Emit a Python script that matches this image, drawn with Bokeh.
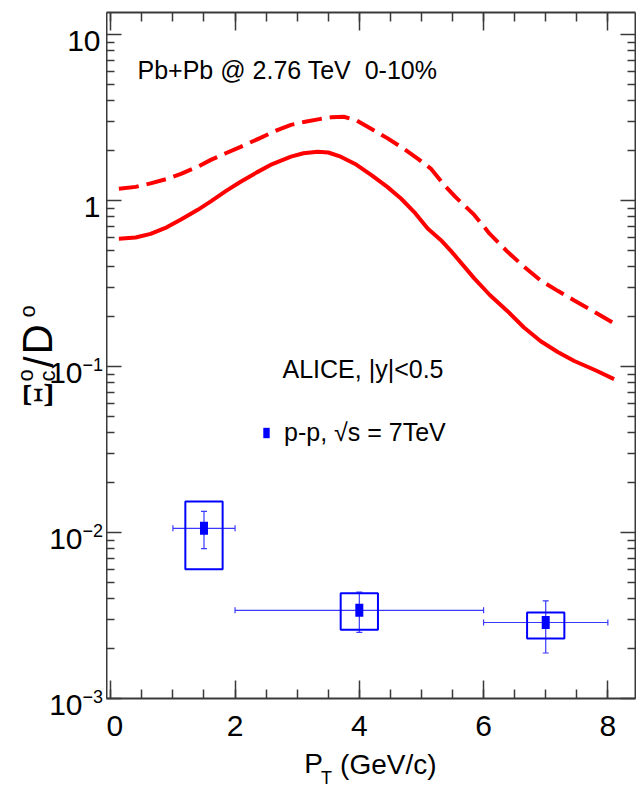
import math

from bokeh.plotting import figure
from bokeh.layouts import row, column
from bokeh.core.properties import value
from bokeh.models import (Range1d, FixedTicker, LinearAxis, LogAxis, Label, Whisker,
                          TeeHead, ColumnDataSource, CustomJSTickFormatter, Legend,
                          LegendItem)
from bokeh.embed import file_html
from bokeh.resources import INLINE

# Model curves: Xi_c^0 / D^0 ratio, Pb+Pb @ 2.76 TeV, 0-10%
pt_solid = [0.13, 0.40, 0.64, 0.90, 1.13, 1.40, 1.61, 1.85, 2.09, 2.35, 2.60, 2.90,
            3.10, 3.33, 3.50, 3.70, 3.95, 4.19, 4.45, 4.67, 4.90, 5.10, 5.31, 5.47,
            5.85, 6.10, 6.39, 6.65, 6.92, 7.20, 7.46, 7.80, 8.10]
ratio_solid = [0.59, 0.60, 0.63, 0.69, 0.77, 0.88, 0.99, 1.14, 1.30, 1.48, 1.66, 1.84,
               1.93, 1.97, 1.95, 1.84, 1.65, 1.43, 1.21, 1.03, 0.84, 0.68, 0.58, 0.50,
               0.34, 0.27, 0.215, 0.172, 0.142, 0.122, 0.108, 0.095, 0.084]
pt_dashed = [0.13, 0.40, 0.64, 0.90, 1.13, 1.40, 1.61, 1.85, 2.09, 2.40, 2.69, 2.90,
             3.15, 3.38, 3.55, 3.75, 3.95, 4.19, 4.45, 4.72, 4.95, 5.15, 5.36, 5.55,
             5.85, 6.10, 6.39, 6.65, 6.92, 7.20, 7.46, 7.80, 8.10]
ratio_dashed = [1.18, 1.21, 1.27, 1.35, 1.45, 1.60, 1.76, 1.93, 2.11, 2.38, 2.67, 2.86,
                3.00, 3.11, 3.18, 3.20, 3.05, 2.71, 2.38, 2.05, 1.78, 1.56, 1.25, 1.05,
                0.82, 0.63, 0.49, 0.40, 0.33, 0.285, 0.25, 0.212, 0.182]

# ALICE p-p, sqrt(s) = 7 TeV, |y| < 0.5
alice_pt = [1.5, 4.0, 7.0]
alice_ratio = [0.0106, 0.0034, 0.00287]
alice_pt_low = [1.0, 2.0, 6.0]
alice_pt_high = [2.0, 6.0, 8.0]
alice_stat_low = [0.0080, 0.0025, 0.00188]
alice_stat_high = [0.0134, 0.00437, 0.00388]
alice_sys_low = [0.0060, 0.0026, 0.0023]
alice_sys_high = [0.0154, 0.0043, 0.0033]

# Axis ticks and their labels
x_ticks = [0, 2, 4, 6, 8]
y_ticks = [1e-3, 1e-2, 1e-1, 1, 10]
y_tick_base = ["10", "10", "10", "1", "10"]
y_tick_exp = ["\u22123", "\u22122", "\u22121", "", ""]

# Page layout (pixels)
W, H = 636, 797
FRAME_LEFT, FRAME_RIGHT, FRAME_TOP, FRAME_BOTTOM = 106, 635, 12, 698
MAIN_H = 748
X0, X1 = -0.069, 8.445
Y0, Y1 = 1e-3, 13.6
SYS_HALF_WIDTH = 0.3
# text anchors sit this fraction of the font size above the drawn baseline
BASE_SHIFT = 0.35

SANS = "Liberation Sans"
SERIF = "Liberation Serif"
AXIS_GREY = "#3a3a3a"
RED = "#ff0000"
BLUE = "#0000ff"
ERR_BLUE = "#3a3aff"
UP = math.pi / 2


def bare_figure(**kw):
    f = figure(output_backend="svg", toolbar_location=None,
               x_axis_location=None, y_axis_location=None,
               min_border_left=0, min_border_right=0,
               min_border_top=0, min_border_bottom=0, **kw)
    f.outline_line_color = None
    f.background_fill_color = "white"
    f.border_fill_color = "white"
    f.grid.visible = False
    return f


# ---------------- main plot ----------------
p = figure(width=W - FRAME_LEFT, height=MAIN_H, y_axis_type="log",
           x_range=Range1d(X0, X1), y_range=Range1d(Y0, Y1),
           output_backend="svg", toolbar_location=None,
           min_border_left=0, min_border_right=W - FRAME_RIGHT,
           min_border_top=FRAME_TOP, min_border_bottom=MAIN_H - FRAME_BOTTOM)
p.background_fill_color = "white"
p.border_fill_color = "white"
p.outline_line_color = None
p.xgrid.visible = False
p.ygrid.visible = False

x_ticker = FixedTicker(ticks=x_ticks, minor_ticks=[i * 0.5 for i in range(0, 17)])
y_minor = [k * 10.0 ** n for n in range(-3, 2) for k in range(2, 10)]
y_ticker = FixedTicker(ticks=y_ticks, minor_ticks=y_minor)
blank = CustomJSTickFormatter(code="return ''")


def style_axis(ax, major, minor):
    ax.axis_line_color = AXIS_GREY
    ax.axis_line_width = 2
    ax.major_tick_line_color = AXIS_GREY
    ax.minor_tick_line_color = AXIS_GREY
    ax.major_tick_line_width = 1.5
    ax.minor_tick_line_width = 1.5
    ax.major_tick_in = major
    ax.major_tick_out = 0
    ax.minor_tick_in = minor
    ax.minor_tick_out = 0


xb = p.xaxis[0]
xb.ticker = x_ticker
style_axis(xb, 18, 9)
xb.major_label_text_font = SANS
xb.major_label_text_font_size = "30px"
xb.major_label_text_color = "black"
xb.major_label_standoff = 17

yl = p.yaxis[0]
yl.ticker = y_ticker
yl.formatter = blank
style_axis(yl, 15, 8)
yl.major_label_standoff = 0

xt = LinearAxis(ticker=x_ticker, formatter=blank, major_label_standoff=0)
style_axis(xt, 18, 9)
p.add_layout(xt, "above")
yr = LogAxis(ticker=y_ticker, formatter=blank, major_label_standoff=0)
style_axis(yr, 15, 8)
p.add_layout(yr, "right")

# Model curves
p.line(pt_solid, ratio_solid, line_color=RED, line_width=4)
p.line(pt_dashed, ratio_dashed, line_color=RED, line_width=4, line_dash="20 8")

# ALICE points: systematic boxes, statistical bars, bin widths, markers
src = ColumnDataSource(dict(
    pt=alice_pt, ratio=alice_ratio,
    pt_lo=alice_pt_low, pt_hi=alice_pt_high,
    stat_lo=alice_stat_low, stat_hi=alice_stat_high,
    box_l=[x - SYS_HALF_WIDTH for x in alice_pt],
    box_r=[x + SYS_HALF_WIDTH for x in alice_pt],
    sys_lo=alice_sys_low, sys_hi=alice_sys_high,
))
p.quad(left="box_l", right="box_r", bottom="sys_lo", top="sys_hi", source=src,
       fill_color=None, line_color=BLUE, line_width=2)
for dim, base, lo, hi in (("height", "pt", "stat_lo", "stat_hi"),
                          ("width", "ratio", "pt_lo", "pt_hi")):
    p.add_layout(Whisker(source=src, base=base, lower=lo, upper=hi, dimension=dim,
                         line_color=ERR_BLUE, line_width=1.2,
                         upper_head=TeeHead(size=6, line_color=ERR_BLUE, line_width=1.2),
                         lower_head=TeeHead(size=6, line_color=ERR_BLUE, line_width=1.2)))
markers = p.rect(x="pt", y="ratio", width=8, height=13, width_units="screen",
                 height_units="screen", source=src, fill_color=BLUE, line_color=None)

legend = Legend(items=[LegendItem(label="p-p, \u221as = 7TeV", renderers=[markers])],
                location=(262 - FRAME_LEFT, FRAME_BOTTOM - 449),
                glyph_width=8, glyph_height=13, label_height=34, label_standoff=14,
                padding=0, margin=0, spacing=0,
                border_line_color=None, background_fill_alpha=0,
                label_text_font=SANS, label_text_font_size="25px",
                label_text_color="black")
p.add_layout(legend)


def frame_label(text, sx, baseline, size):
    """Text whose baseline sits at a page pixel row, measured from the frame corner."""
    sy = baseline - BASE_SHIFT * size
    return Label(x=X0, y=Y0, x_offset=sx - FRAME_LEFT, y_offset=FRAME_BOTTOM - sy,
                 text=text, text_font=SANS, text_font_size=f"{size}px",
                 text_color="black", text_align="left", text_baseline="alphabetic")


p.add_layout(frame_label("Pb+Pb @ 2.76 TeV\u00a0 0-10%", 137, 78, 25))
p.add_layout(frame_label("ALICE, |y|<0.5", 282, 377, 25))

# ---------------- left strip: y tick labels and y title ----------------
dec_per_px = (math.log10(Y1) - math.log10(Y0)) / (FRAME_BOTTOM - FRAME_TOP)
strip_top = 10 ** (math.log10(Y1) + FRAME_TOP * dec_per_px)
strip_bottom = 10 ** (math.log10(Y0) - (H - FRAME_BOTTOM) * dec_per_px)


def page_y(py):
    """Strip data coordinate of a page pixel row."""
    return 10 ** (math.log10(Y0) + (FRAME_BOTTOM - py) * dec_per_px)


left = bare_figure(width=FRAME_LEFT, height=H, y_axis_type="log",
                   x_range=Range1d(0, FRAME_LEFT),
                   y_range=Range1d(strip_bottom, strip_top))

# tick labels: "10" with a raised exponent, placed at the tick values
TICK_SIZE, EXP_SIZE = 30, 18
base_src = ColumnDataSource(dict(
    x=[100 if not e else 82 for e in y_tick_exp], y=y_ticks, text=y_tick_base))
left.text(x="x", y="y", text="text", source=base_src,
          y_offset=17 - BASE_SHIFT * TICK_SIZE,
          text_font=value(SANS), text_font_size=f"{TICK_SIZE}px", text_color="black",
          text_align="right", text_baseline="alphabetic")
exp_idx = [i for i, e in enumerate(y_tick_exp) if e]
exp_src = ColumnDataSource(dict(
    x=[82] * len(exp_idx), y=[y_ticks[i] for i in exp_idx],
    text=[y_tick_exp[i] for i in exp_idx]))
left.text(x="x", y="y", text="text", source=exp_src,
          y_offset=4 - BASE_SHIFT * EXP_SIZE,
          text_font=value(SANS), text_font_size=f"{EXP_SIZE}px", text_color="black",
          text_align="left", text_baseline="alphabetic")

# y title: Xi_c^o / D^o, reading upwards (baseline column, start row, size)
title_text = ["\u039e", "c", "o", "/", "D", "o"]
title_base = [52, 55, 33, 52, 52, 35]
title_start = [408, 381, 381, 367, 354, 317]
title_size = [42, 22, 22, 40, 42, 22]
title_src = ColumnDataSource(dict(
    text=title_text,
    x=[b - BASE_SHIFT * s for b, s in zip(title_base, title_size)],
    y=[page_y(v) for v in title_start],
    font=[SERIF] + [SANS] * 5,
    size=[f"{s}px" for s in title_size],
))
left.text(x="x", y="y", text="text", source=title_src, angle=UP,
          text_font="font", text_font_size="size", text_color="black",
          text_align="left", text_baseline="alphabetic")

# ---------------- bottom strip: x title ----------------
bottom = bare_figure(width=W - FRAME_LEFT, height=H - MAIN_H,
                     x_range=Range1d(FRAME_LEFT, W), y_range=Range1d(H, MAIN_H))
xt_sizes = [28, 18, 28]
xt_src = ColumnDataSource(dict(
    text=["P", "T", "(GeV/c)"], x=[304, 321, 340],
    y=[b - BASE_SHIFT * s for b, s in zip([773, 784, 774], xt_sizes)],
    size=[f"{s}px" for s in xt_sizes]))
bottom.text(x="x", y="y", text="text", source=xt_src, text_font=value(SANS),
            text_font_size="size", text_color="black", text_align="left",
            text_baseline="alphabetic")

layout = row(left, column(p, bottom, spacing=0), spacing=0)
open("out.html", "w").write(file_html(layout, INLINE))
